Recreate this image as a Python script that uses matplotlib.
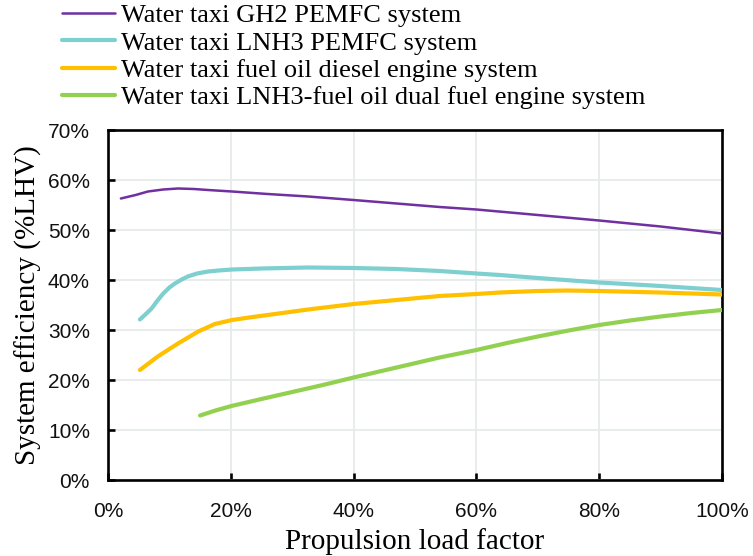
import matplotlib
matplotlib.use("Agg")
import matplotlib.pyplot as plt
from matplotlib.ticker import FuncFormatter

# Data (x: propulsion load factor %, y: system efficiency %LHV)
gh2_x = [2.1, 4.5, 6.5, 9.0, 11.4, 14.0, 16.3, 20.2, 26.0, 32.6, 40.0, 47.0, 54.0, 60.0, 70.0, 80.0, 90.0, 100.0]
gh2_y = [56.3, 57.0, 57.7, 58.1, 58.3, 58.2, 58.0, 57.7, 57.2, 56.7, 56.0, 55.3, 54.6, 54.1, 53.0, 51.9, 50.7, 49.3]

lnh3_x = [5.2, 6.0, 7.1, 8.0, 9.0, 10.0, 10.9, 12.0, 13.0, 14.5, 16.3, 18.0, 20.2, 25.0, 32.6, 40.0, 47.0, 54.0, 60.0, 63.8, 70.0, 80.0, 90.0, 100.0]
lnh3_y = [32.1, 33.0, 34.3, 35.8, 37.3, 38.5, 39.3, 40.1, 40.7, 41.3, 41.7, 41.9, 42.1, 42.3, 42.5, 42.4, 42.2, 41.8, 41.3, 41.0, 40.4, 39.5, 38.8, 38.0]

diesel_x = [5.2, 8.1, 11.4, 14.7, 17.4, 20.2, 23.0, 26.0, 29.6, 32.6, 40.0, 47.0, 54.0, 60.0, 63.8, 70.0, 74.7, 80.0, 90.0, 100.0]
diesel_y = [22.0, 24.7, 27.3, 29.7, 31.2, 32.0, 32.5, 33.0, 33.6, 34.1, 35.2, 36.0, 36.8, 37.2, 37.5, 37.8, 37.9, 37.8, 37.5, 37.1]

dual_x = [15.0, 17.5, 20.1, 25.0, 30.0, 35.0, 40.0, 47.0, 54.0, 60.0, 65.0, 70.0, 75.0, 80.0, 85.0, 90.0, 95.0, 100.0]
dual_y = [12.9, 13.9, 14.8, 16.2, 17.6, 19.0, 20.5, 22.5, 24.5, 26.0, 27.4, 28.7, 29.9, 31.0, 31.9, 32.7, 33.4, 34.0]

labels = [
    "Water taxi GH2 PEMFC system",
    "Water taxi LNH3 PEMFC system",
    "Water taxi fuel oil diesel engine system",
    "Water taxi LNH3-fuel oil dual fuel engine system",
]
colors = ["#7030A0", "#7ECFCF", "#FFC000", "#92D050"]
widths = [1.8, 3.0, 3.0, 3.0]

x_ticks = [0, 20, 40, 60, 80, 100]
y_ticks = [0, 10, 20, 30, 40, 50, 60, 70]

fig = plt.figure(figsize=(7.53, 5.56), dpi=100)
ax = fig.add_axes([108/753, 1-480/556, (722-108)/753, (480-130)/556])

series = [(gh2_x, gh2_y), (lnh3_x, lnh3_y), (diesel_x, diesel_y), (dual_x, dual_y)]
handles = []
for (xs, ys), lab, c, w in zip(series, labels, colors, widths):
    h, = ax.plot(xs, ys, color=c, lw=w, label=lab, solid_capstyle="round",
                 solid_joinstyle="round", zorder=3)
    handles.append(h)

ax.set_xlim(0, 100)
ax.set_ylim(0, 70)
ax.set_xticks(x_ticks)
ax.set_yticks(y_ticks)
ax.xaxis.set_major_formatter(FuncFormatter(lambda v, p: f"{v:.0f}%"))
ax.yaxis.set_major_formatter(FuncFormatter(lambda v, p: f"{v:.0f}%"))
ax.grid(True, color="#E6EAEA", lw=1.3, zorder=0)
ax.set_axisbelow(True)

for s in ax.spines.values():
    s.set_linewidth(1.9)
    s.set_color("black")
ax.tick_params(axis="both", direction="in", length=5, width=1.9, color="black")
ax.tick_params(axis="x", pad=15.5)
ax.tick_params(axis="y", pad=13)
for t in ax.get_xticklabels() + ax.get_yticklabels():
    t.set_fontfamily("Liberation Sans")
    t.set_fontsize(15)
    t.set_color("#111111")

ax.set_xlabel("Propulsion load factor", fontfamily="Liberation Serif", fontsize=21, labelpad=5.5)
ax.set_ylabel("System efficiency (%LHV)", fontfamily="Liberation Serif", fontsize=21, labelpad=4)

leg = fig.legend(handles=handles, labels=labels, loc="upper left",
                 bbox_to_anchor=(62/753, 1 - 4/556), bbox_transform=fig.transFigure,
                 frameon=False, borderpad=0, borderaxespad=0, labelspacing=0.14,
                 handlelength=2.0, handletextpad=0.25,
                 prop={"family": "Liberation Serif", "size": 19})

fig.savefig("out.png", dpi=100)
